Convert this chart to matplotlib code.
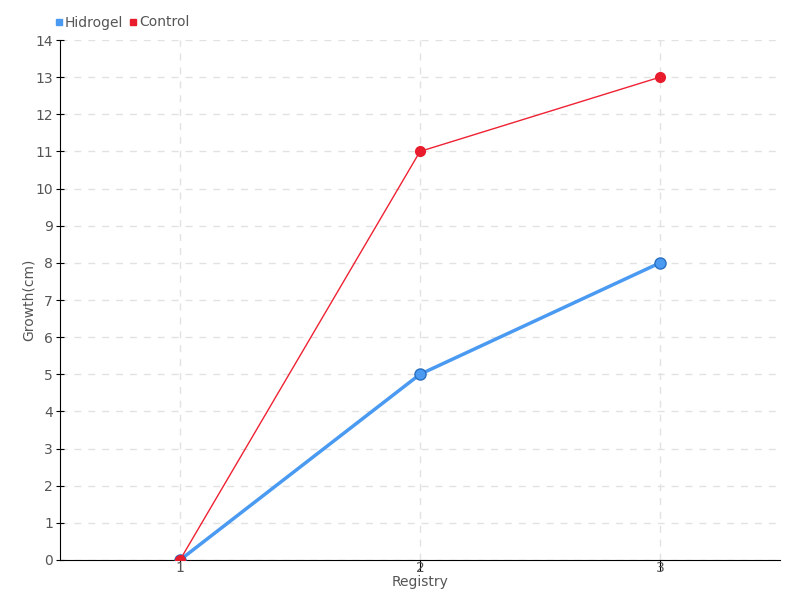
import matplotlib
matplotlib.use("Agg")
import matplotlib.pyplot as plt
from matplotlib.lines import Line2D

registry = [1, 2, 3]
hidrogel = [0, 5, 8]
control = [0, 11, 13]
series_names = ["Hidrogel", "Control"]

plt.rcParams['font.family'] = ['DejaVu Sans']

fig = plt.figure(figsize=(8, 6), dpi=100)
ax = fig.add_axes([0.075, 0.0667, 0.9, 0.8666])

ax.plot(registry, hidrogel, color='#4a9af2', lw=2.5, marker='o', ms=8,
        mfc='#4a9af2', mec='#2a6fc0', mew=1, zorder=3)
ax.plot(registry, control, color='#ee2233', lw=1, marker='o', ms=7,
        mfc='#e81c2c', mec='#e81c2c', zorder=4)

ax.set_xlim(0.5, 3.5)
ax.set_ylim(0, 14)
ax.set_xticks(registry)
ax.set_yticks(range(0, 15))
ax.grid(True, color='#e2e2e2', linestyle=(0, (5, 5)), lw=1)
ax.set_axisbelow(True)
for s in ['top', 'right']:
    ax.spines[s].set_visible(False)
ax.spines['left'].set_color('black')
ax.spines['bottom'].set_color('black')
ax.tick_params(axis='x', colors='black', labelcolor='#555555', labelsize=10, length=8, direction='out', pad=-7)
ax.tick_params(axis='y', colors='black', labelcolor='#555555', labelsize=10, length=6, direction='inout', pad=2)
ax.set_xlabel('Registry', color='#555555', fontsize=10, labelpad=0)
ax.set_ylabel('Growth(cm)', color='#555555', fontsize=10)
ax.yaxis.set_label_coords(-0.033, 0.5)

handles = [Line2D([], [], marker='s', ls='', color='#4a9af2', ms=5),
           Line2D([], [], marker='s', ls='', color='#e81c2c', ms=5)]
fig.legend(handles, series_names, loc='upper left', bbox_to_anchor=(0.052, 0.995),
           ncol=2, frameon=False, fontsize=10, handletextpad=0.05, columnspacing=0.4,
           handlelength=0.7, labelcolor='#555555')

fig.savefig('out.png', dpi=100)
